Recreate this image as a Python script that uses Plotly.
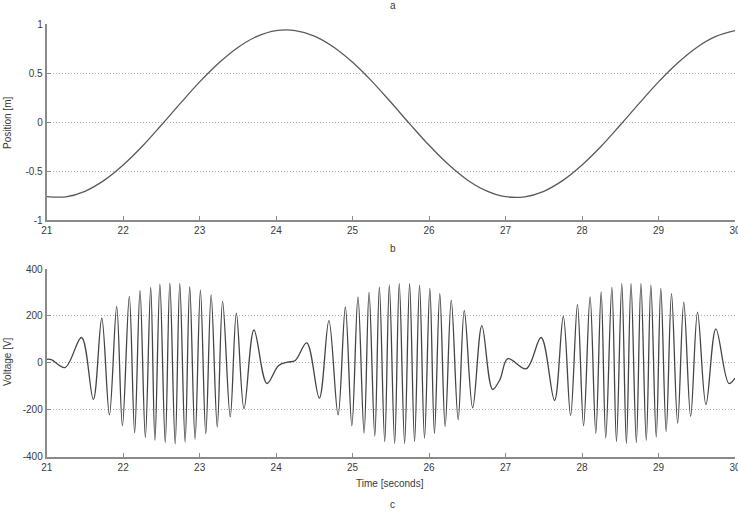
import plotly.graph_objects as go

# ---- Data ----
# Top panel (a): position [m] vs time [s]
pos_t = [21.00, 21.25, 21.50, 21.75, 22.00, 22.25, 22.50, 22.75, 23.00, 23.25,
         23.50, 23.75, 24.00, 24.25, 24.50, 24.75, 25.00, 25.25, 25.50, 25.75,
         26.00, 26.25, 26.50, 26.75, 27.00, 27.25, 27.50, 27.75, 28.00, 28.25,
         28.50, 28.75, 29.00, 29.25, 29.50, 29.75, 30.00]
pos_m = [-0.762, -0.763, -0.707, -0.596, -0.439, -0.248, -0.031, 0.192, 0.409, 0.602,
         0.761, 0.873, 0.932, 0.933, 0.877, 0.766, 0.609, 0.417, 0.201, -0.022,
         -0.238, -0.432, -0.591, -0.703, -0.762, -0.763, -0.707, -0.596, -0.439, -0.248,
         -0.031, 0.192, 0.409, 0.602, 0.761, 0.873, 0.932]

# Bottom panel (b): voltage [V] turning points vs time [s]
volt_t = [21.00, 21.06, 21.24, 21.455, 21.61, 21.72, 21.82, 21.915, 21.99, 22.08,
          22.15, 22.22, 22.29, 22.36, 22.415, 22.48, 22.55, 22.61, 22.68, 22.74,
          22.81, 22.87, 22.94, 23.01, 23.08, 23.15, 23.23, 23.30, 23.40, 23.48,
          23.58, 23.71, 23.88, 24.03, 24.15, 24.25, 24.40, 24.565, 24.69, 24.81,
          24.905, 24.99, 25.07, 25.15, 25.215, 25.29, 25.35, 25.42, 25.48, 25.55,
          25.61, 25.68, 25.745, 25.81, 25.875, 25.94, 26.01, 26.07, 26.14, 26.21,
          26.29, 26.38, 26.46, 26.57, 26.69, 26.83, 26.925, 27.03, 27.27, 27.465,
          27.64, 27.755, 27.85, 27.94, 28.02, 28.105, 28.18, 28.25, 28.31, 28.39,
          28.45, 28.52, 28.58, 28.64, 28.71, 28.77, 28.84, 28.90, 28.97, 29.03,
          29.10, 29.17, 29.25, 29.33, 29.42, 29.51, 29.62, 29.75, 29.92, 30.00]
volt_v = [15, 14, -20, 108, -156, 190, -222, 241, -268, 283,
          -298, 308, -318, 322, -330, 335, -340, 340, -345, 338,
          -338, 325, -325, 310, -303, 290, -273, 262, -230, 212,
          -195, 140, -88, -12, 3, 10, 85, -150, 180, -222,
          238, -268, 281, -299, 300, -312, 323, -336, 331, -343,
          338, -343, 338, -335, 331, -321, 317, -300, 295, -271,
          267, -242, 224, -192, 159, -113, -72, 18, -25, 108,
          -160, 198, -225, 248, -268, 281, -300, 302, -320, 322,
          -335, 338, -343, 338, -340, 338, -330, 331, -316, 317,
          -292, 295, -257, 259, -228, 216, -178, 145, -88, -65]

x_ticks = [21, 22, 23, 24, 25, 26, 27, 28, 29, 30]
pos_ticks = [-1, -0.5, 0, 0.5, 1]
pos_ticklabels = ["-1", "-0.5", "0", "0.5", "1"]
volt_ticks = [-400, -200, 0, 200, 400]
volt_ticklabels = ["-400", "-200", "0", "200", "400"]

# ---- Layout helpers (pixel -> paper) ----
W, H = 738, 512
def px(x):
    return x / W
def py(y):
    return 1 - y / H

FONT = "Liberation Sans, Arial, sans-serif"
TXT = "#3a3a3a"
AX = "#8a8a8a"
GRID = "#b0b0b0"

fig = go.Figure()
fig.add_trace(go.Scatter(x=pos_t, y=pos_m, mode="lines", xaxis="x", yaxis="y",
                         line=dict(color="#5a5a5a", width=1.3, shape="spline", smoothing=1.0),
                         hoverinfo="skip", showlegend=False))
fig.add_trace(go.Scatter(x=volt_t, y=volt_v, mode="lines", xaxis="x2", yaxis="y2",
                         line=dict(color="#454545", width=1.3, shape="spline", smoothing=1.0),
                         hoverinfo="skip", showlegend=False))

xdom = [px(46.7), px(735)]
common_x = dict(range=[21, 30], tickvals=x_ticks, ticktext=[str(v) for v in x_ticks],
                ticks="inside", ticklen=4, tickcolor=AX, showline=True, linecolor=AX,
                linewidth=2, showgrid=False, zeroline=False, automargin=False,
                ticklabeloverflow="allow",
                tickfont=dict(family=FONT, size=10, color=TXT), mirror=False)
common_y = dict(ticks="inside", ticklen=4, tickcolor=AX, showline=True, linecolor=AX,
                linewidth=2, showgrid=True, gridcolor=GRID, griddash="1px,2px", gridwidth=1,
                zeroline=False, automargin=False, ticklabeloverflow="allow",
                tickfont=dict(family=FONT, size=10, color=TXT), mirror=False)

fig.update_layout(
    width=W, height=H,
    margin=dict(l=0, r=0, t=0, b=0),
    paper_bgcolor="white", plot_bgcolor="white",
    xaxis=dict(domain=xdom, anchor="y", **common_x),
    yaxis=dict(domain=[py(220), py(24)], anchor="x", range=[-1, 1],
               tickvals=pos_ticks, ticktext=pos_ticklabels, **common_y),
    xaxis2=dict(domain=xdom, anchor="y2", **common_x),
    yaxis2=dict(domain=[py(456.7), py(269)], anchor="x2", range=[-400, 400],
                tickvals=volt_ticks, ticktext=volt_ticklabels, **common_y),
)

ann = [
    dict(text="a", x=px(393), y=py(5), size=10, angle=0),
    dict(text="b", x=px(393), y=py(248), size=10, angle=0),
    dict(text="c", x=px(393), y=py(504), size=10, angle=0),
    dict(text="Time [seconds]", x=px(390), y=py(483), size=10, angle=0),
    dict(text="Position [m]", x=px(7), y=py(123), size=10, angle=-90),
    dict(text="Voltage [V]", x=px(7), y=py(362), size=10, angle=-90),
]
for a in ann:
    fig.add_annotation(text=a["text"], x=a["x"], y=a["y"], xref="paper", yref="paper",
                       xanchor="center", yanchor="middle", showarrow=False,
                       textangle=a["angle"], font=dict(family=FONT, size=a["size"], color=TXT))

fig.write_html("out.html", config={"displayModeBar": False},
               post_script="document.body.style.margin='0';document.body.style.padding='0';")
